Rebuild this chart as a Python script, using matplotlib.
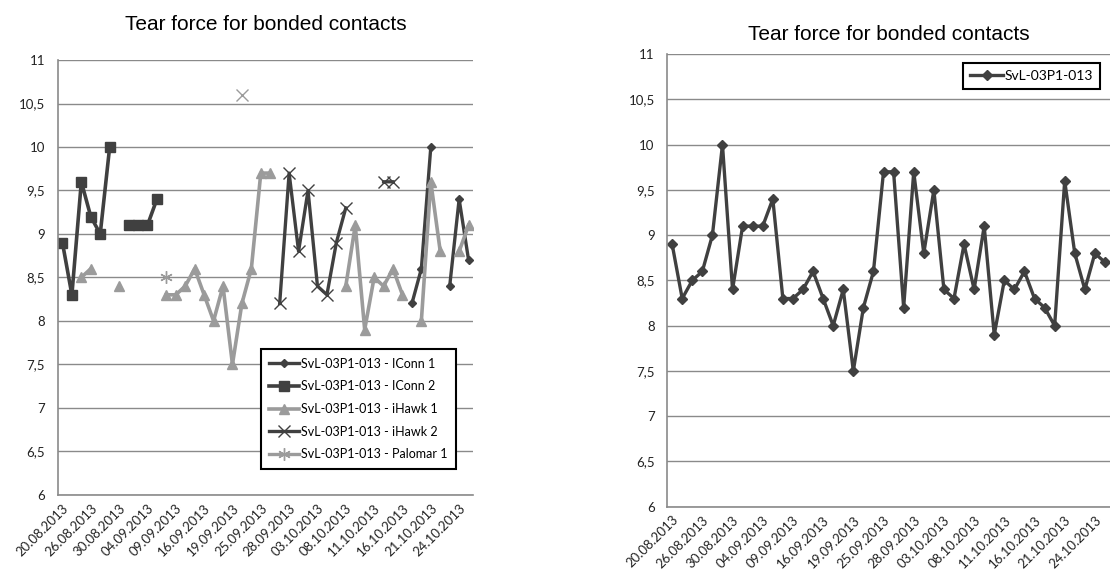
import numpy as np
import matplotlib
matplotlib.use("Agg")
import matplotlib.pyplot as plt
from matplotlib.ticker import FuncFormatter

# tick labels (every 3rd of 44 test dates)
date_labels = ["20.08.2013", "26.08.2013", "30.08.2013", "04.09.2013", "09.09.2013",
               "16.09.2013", "19.09.2013", "25.09.2013", "28.09.2013", "03.10.2013",
               "08.10.2013", "11.10.2013", "16.10.2013", "21.10.2013", "24.10.2013"]
n_cats = 44
N = None

# per-device series (None = no measurement on that date)
iconn1 = [N]*37 + [8.2, 8.6, 10.0, N, 8.4, 9.4, 8.7]
iconn2 = [8.9, 8.3, 9.6, 9.2, 9.0, 10.0, N, 9.1, 9.1, 9.1, 9.4] + [N]*33
ihawk1 = ([N, N, 8.5, 8.6, N, N, 8.4, N, N, N, N]
          + [8.3, 8.3, 8.4, 8.6, 8.3, 8.0, 8.4, 7.5, 8.2, 8.6, 9.7, 9.7]
          + [N]*7
          + [8.4, 9.1, 7.9, 8.5, 8.4, 8.6, 8.3, N, 8.0, 9.6, 8.8, N, 8.8, 9.1])
ihawk2 = [N]*23 + [8.2, 9.7, 8.8, 9.5, 8.4, 8.3, 8.9, 9.3, N, N, N, 9.6, 9.6] + [N]*8
palomar1 = [N]*11 + [8.5] + [N]*32
extra_x = [N]*19 + [10.6] + [N]*24

# all devices together
combined = [8.9, 8.3, 8.5, 8.6, 9.0, 10.0, 8.4, 9.1, 9.1, 9.1, 9.4, 8.3, 8.3, 8.4,
            8.6, 8.3, 8.0, 8.4, 7.5, 8.2, 8.6, 9.7, 9.7, 8.2, 9.7, 8.8, 9.5, 8.4,
            8.3, 8.9, 8.4, 9.1, 7.9, 8.5, 8.4, 8.6, 8.3, 8.2, 8.0, 9.6, 8.8, 8.4,
            8.8, 8.7]

dark = "#404040"
light = "#9b9b9b"
tick_font = "Lato"
title_font = "Liberation Sans"

x = np.arange(n_cats)


def arr(v):
    return np.array(v, dtype=float)


def style_axes(ax):
    ax.set_xlim(-0.5, n_cats - 0.5)
    ax.set_ylim(6, 11)
    ax.set_yticks(np.arange(6, 11.01, 0.5))
    ax.yaxis.set_major_formatter(FuncFormatter(lambda v, p: ("%g" % v).replace(".", ",")))
    ax.set_xticks(x[::3])
    ax.set_xticklabels(date_labels, rotation=45, ha="right", rotation_mode="anchor")
    ax.grid(axis="y", color="#8a8a8a", linewidth=1.0)
    ax.set_axisbelow(True)
    for s in ["top", "right"]:
        ax.spines[s].set_visible(False)
    for s in ["left", "bottom"]:
        ax.spines[s].set_color("#8a8a8a")
        ax.spines[s].set_linewidth(1.2)
    ax.tick_params(length=0, labelsize=9.5, colors="#222222")
    ax.tick_params(axis="y", pad=9)
    ax.tick_params(axis="x", pad=5)
    for lab in ax.get_xticklabels() + ax.get_yticklabels():
        lab.set_fontfamily(tick_font)


fig = plt.figure(figsize=(11.1, 5.7), dpi=100)

# left chart: split by device
ax1 = fig.add_axes([0.052, 0.132, 0.3744, 0.7626])
ax1.plot(x, arr(iconn1), color=dark, lw=2.4, marker="D", ms=4.5, label="SvL-03P1-013 - IConn 1")
ax1.plot(x, arr(iconn2), color=dark, lw=2.6, marker="s", ms=7.5, label="SvL-03P1-013 - IConn 2")
ax1.plot(x, arr(ihawk1), color=light, lw=2.6, marker="^", ms=7, label="SvL-03P1-013 - iHawk 1")
ax1.plot(x, arr(ihawk2), color=dark, lw=2.4, marker="x", ms=8, mew=1.0, label="SvL-03P1-013 - iHawk 2")
ax1.plot(x, arr(palomar1), color=light, lw=2.4, marker=(6, 2, 0), ms=9, mew=1.0,
         label="SvL-03P1-013 - Palomar 1")
ax1.plot(x, arr(extra_x), color=light, lw=0, marker="x", ms=9, mew=1.0)
style_axes(ax1)
leg1 = ax1.legend(loc="lower right", bbox_to_anchor=(0.973, 0.045), fancybox=False,
                  edgecolor="black", framealpha=1, prop={"family": tick_font, "size": 9},
                  handlelength=2.4, handletextpad=0.1, labelspacing=0.85, borderpad=0.7)
leg1.get_frame().set_linewidth(1.5)
ax1.set_title("Tear force for bonded contacts", fontsize=15, fontfamily=title_font, pad=22)

# right chart: all devices together
ax2 = fig.add_axes([0.601, 0.111, 0.399, 0.794])
ax2.plot(x, arr(combined), color=dark, lw=2.4, marker="D", ms=5, label="SvL-03P1-013")
style_axes(ax2)
leg2 = ax2.legend(loc="upper right", bbox_to_anchor=(0.993, 0.996), fancybox=False,
                  edgecolor="black", framealpha=1, prop={"family": tick_font, "size": 10},
                  handlelength=2.4, handletextpad=0.1, borderpad=0.5)
leg2.get_frame().set_linewidth(1.5)
ax2.set_title("Tear force for bonded contacts", fontsize=15, fontfamily=title_font, pad=10)

fig.savefig("out.png", dpi=100)
